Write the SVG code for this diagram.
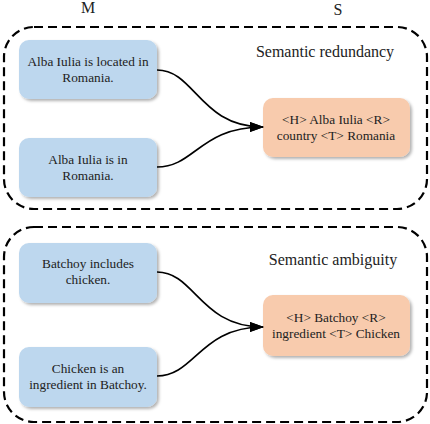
<svg xmlns="http://www.w3.org/2000/svg" width="430" height="424" viewBox="0 0 430 424">
<defs>
<filter id="sh" x="-10%" y="-10%" width="125%" height="130%">
<feDropShadow dx="2" dy="2" stdDeviation="1.5" flood-color="#000" flood-opacity="0.3"/>
</filter>
<marker id="ah" markerWidth="14" markerHeight="10" refX="13" refY="5" orient="auto" markerUnits="userSpaceOnUse">
<path d="M0,0 L14,5 L0,10 Z" fill="#000"/>
</marker>
<style>
.grp{fill:none;stroke:#000;stroke-width:2.2;stroke-dasharray:9,5}
.m{fill:#BDD7EE;filter:url(#sh)}
.s{fill:#F8CBAD;filter:url(#sh)}
text{font-family:"Liberation Serif","Times New Roman",serif;fill:#222}
.t{font-size:13.3px;text-anchor:middle}
.h{font-size:16px}
.e{fill:none;stroke:#000;stroke-width:1.6}
</style>
</defs>
<text x="88" y="13" class="h" text-anchor="middle">M</text>
<text x="338" y="15" class="h" text-anchor="middle">S</text>
<g id="group1">
<rect x="4" y="27" width="423" height="182" rx="30" class="grp"/>
<text x="325" y="57" class="h" text-anchor="middle">Semantic redundancy</text>
</g>
<g id="group2">
<rect x="4" y="227" width="423" height="195" rx="30" class="grp"/>
<text x="333" y="265" class="h" text-anchor="middle">Semantic ambiguity</text>
</g>
<g id="m1"><rect x="19" y="40" width="138" height="59" rx="10" class="m"/>
<text x="88" y="66" class="t">Alba Iulia is located in</text><text x="88" y="82" class="t">Romania.</text></g>
<g id="m2"><rect x="19" y="138" width="138" height="59" rx="10" class="m"/>
<text x="88" y="164" class="t">Alba Iulia is in</text><text x="88" y="180" class="t">Romania.</text></g>
<g id="s1"><rect x="263" y="98" width="147" height="59" rx="10" class="s"/>
<text x="336" y="124" class="t">&lt;H&gt; Alba Iulia &lt;R&gt;</text><text x="336" y="140" class="t">country &lt;T&gt; Romania</text></g>
<g id="m3"><rect x="19" y="243" width="138" height="60" rx="10" class="m"/>
<text x="88" y="268" class="t">Batchoy includes</text><text x="88" y="284" class="t">chicken.</text></g>
<g id="m4"><rect x="19" y="347" width="138" height="60" rx="10" class="m"/>
<text x="88" y="373" class="t">Chicken is an</text><text x="88" y="389" class="t">ingredient in Batchoy.</text></g>
<g id="s2"><rect x="263" y="295" width="147" height="61" rx="10" class="s"/>
<text x="336" y="322" class="t">&lt;H&gt; Batchoy &lt;R&gt;</text><text x="336" y="338" class="t">ingredient &lt;T&gt; Chicken</text></g>
<g id="connectors">
<path d="M157,70 C195,70 200,127 263,127" class="e" marker-end="url(#ah)"/>
<path d="M157,167 C195,167 200,127 263,127" class="e" marker-end="url(#ah)"/>
<path d="M157,272 C195,272 200,327 263,327" class="e" marker-end="url(#ah)"/>
<path d="M157,376 C195,376 200,327 263,327" class="e" marker-end="url(#ah)"/>
</g>
</svg>
